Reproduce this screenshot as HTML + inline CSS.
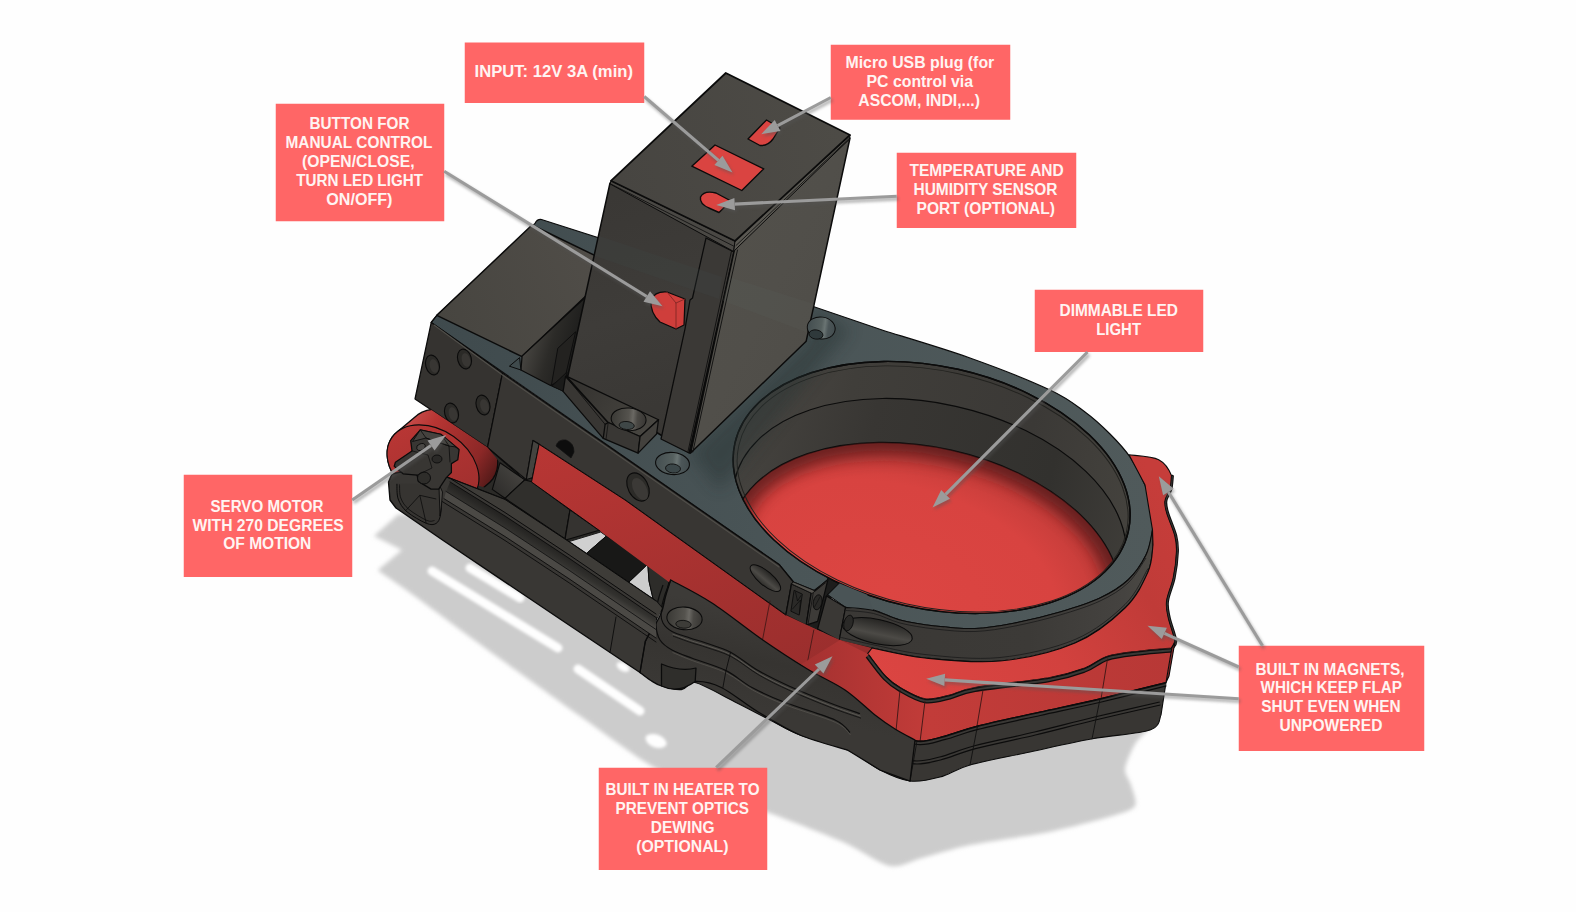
<!DOCTYPE html>
<html><head><meta charset="utf-8"><title>Flat panel flap</title>
<style>
html,body{margin:0;padding:0;background:#fefefe;}
body{width:1576px;height:912px;overflow:hidden;font-family:"Liberation Sans",sans-serif;}
svg{display:block}
text{font-family:"Liberation Sans",sans-serif;font-weight:bold;font-size:15.6px;fill:#fff4f2;}
</style></head><body>
<svg width="1576" height="912" viewBox="0 0 1576 912">
<defs>
<filter id="blur3" x="-10%" y="-10%" width="120%" height="120%"><feGaussianBlur stdDeviation="2.2"/></filter>
<filter id="blur2" x="-20%" y="-20%" width="140%" height="140%"><feGaussianBlur stdDeviation="1.6"/></filter>
<filter id="blur8" x="-20%" y="-20%" width="140%" height="140%"><feGaussianBlur stdDeviation="8"/></filter>
<filter id="blur14" x="-30%" y="-30%" width="160%" height="160%"><feGaussianBlur stdDeviation="14"/></filter>
<radialGradient id="gdisc" cx="0.42" cy="0.62" r="0.62">
 <stop offset="0" stop-color="#dc4542"/><stop offset="0.7" stop-color="#d84340"/><stop offset="0.92" stop-color="#c63d3a"/><stop offset="1" stop-color="#b83836"/>
</radialGradient>
<linearGradient id="gright" x1="0" y1="0" x2="1" y2="1">
 <stop offset="0" stop-color="#53514b"/><stop offset="0.5" stop-color="#514f4a"/><stop offset="1" stop-color="#4d4b46"/>
</linearGradient>
<linearGradient id="gstrip" x1="0" y1="0" x2="0.4" y2="1">
 <stop offset="0" stop-color="#b83634"/><stop offset="1" stop-color="#9a2e2d"/>
</linearGradient>
<linearGradient id="gteal" x1="0" y1="0" x2="1" y2="0">
 <stop offset="0" stop-color="#3f4a4d"/><stop offset="0.5" stop-color="#4a5557"/><stop offset="1" stop-color="#505a5b"/>
</linearGradient>
<linearGradient id="gwall" gradientUnits="userSpaceOnUse" x1="730" y1="0" x2="1140" y2="0"><stop offset="0" stop-color="#4a4743"/><stop offset="0.25" stop-color="#403e3a"/><stop offset="0.7" stop-color="#3b3936"/><stop offset="1" stop-color="#45433e"/></linearGradient>
<linearGradient id="gwall2" gradientUnits="userSpaceOnUse" x1="730" y1="0" x2="1140" y2="0"><stop offset="0" stop-color="#45433f"/><stop offset="0.3" stop-color="#383633"/><stop offset="0.75" stop-color="#32312e"/><stop offset="1" stop-color="#403e3a"/></linearGradient>
<linearGradient id="gtopL" gradientUnits="userSpaceOnUse" x1="440" y1="320" x2="600" y2="260"><stop offset="0" stop-color="#474540"/><stop offset="1" stop-color="#504d48"/></linearGradient>
<linearGradient id="gtopT" gradientUnits="userSpaceOnUse" x1="620" y1="180" x2="840" y2="130"><stop offset="0" stop-color="#474541"/><stop offset="1" stop-color="#4d4b46"/></linearGradient>
<linearGradient id="ggap" gradientUnits="userSpaceOnUse" x1="525" y1="350" x2="575" y2="365"><stop offset="0" stop-color="#464440"/><stop offset="0.45" stop-color="#2c2b28"/><stop offset="1" stop-color="#1b1b1a"/></linearGradient>
<linearGradient id="gfl" gradientUnits="userSpaceOnUse" x1="600" y1="200" x2="680" y2="450"><stop offset="0" stop-color="#3a3835"/><stop offset="0.45" stop-color="#3e3c39"/><stop offset="1" stop-color="#383633"/></linearGradient>
<linearGradient id="gblock" gradientUnits="userSpaceOnUse" x1="570" y1="380" x2="650" y2="430"><stop offset="0" stop-color="#33312e"/><stop offset="1" stop-color="#484641"/></linearGradient>
<linearGradient id="gcs" x1="0" y1="0" x2="1" y2="0"><stop offset="0" stop-color="#3a3935"/><stop offset="0.5" stop-color="#55534e"/><stop offset="0.62" stop-color="#6a6863"/><stop offset="0.75" stop-color="#4a4844"/><stop offset="1" stop-color="#383633"/></linearGradient>
<linearGradient id="gcst" x1="0" y1="0" x2="1" y2="0"><stop offset="0" stop-color="#444e50"/><stop offset="0.5" stop-color="#56605f"/><stop offset="0.62" stop-color="#6a7473"/><stop offset="0.75" stop-color="#4c5658"/><stop offset="1" stop-color="#424c4e"/></linearGradient>
<linearGradient id="gpocket" x1="0" y1="0" x2="0" y2="1"><stop offset="0" stop-color="#262523"/><stop offset="0.6" stop-color="#4c4a46"/><stop offset="1" stop-color="#2f2e2b"/></linearGradient>
<linearGradient id="gringwall" gradientUnits="userSpaceOnUse" x1="840" y1="0" x2="1155" y2="0"><stop offset="0" stop-color="#3a3835"/><stop offset="0.6" stop-color="#3c3a37"/><stop offset="0.9" stop-color="#454340"/><stop offset="1" stop-color="#4c4a45"/></linearGradient>
<linearGradient id="gub" x1="0" y1="1" x2="1" y2="0"><stop offset="0" stop-color="#2a2927"/><stop offset="1" stop-color="#4c4a46"/></linearGradient>
<linearGradient id="gflaptop" gradientUnits="userSpaceOnUse" x1="870" y1="690" x2="1170" y2="500"><stop offset="0" stop-color="#dc4542"/><stop offset="0.5" stop-color="#d2413e"/><stop offset="0.8" stop-color="#c03b38"/><stop offset="1" stop-color="#c63d3a"/></linearGradient>
<linearGradient id="gflapside" gradientUnits="userSpaceOnUse" x1="800" y1="0" x2="1170" y2="0"><stop offset="0" stop-color="#a33130"/><stop offset="0.2" stop-color="#b63735"/><stop offset="0.35" stop-color="#c23c39"/><stop offset="1" stop-color="#b83836"/></linearGradient>
<linearGradient id="garm" gradientUnits="userSpaceOnUse" x1="700" y1="600" x2="680" y2="690"><stop offset="0" stop-color="#3d3b38"/><stop offset="0.5" stop-color="#363431"/><stop offset="1" stop-color="#3a3835"/></linearGradient>
<linearGradient id="gservo" gradientUnits="userSpaceOnUse" x1="395" y1="415" x2="500" y2="480"><stop offset="0" stop-color="#cf5a57"/><stop offset="0.3" stop-color="#b73533"/><stop offset="0.75" stop-color="#8c2827"/><stop offset="1" stop-color="#451615"/></linearGradient>
<linearGradient id="gservof" gradientUnits="userSpaceOnUse" x1="390" y1="440" x2="480" y2="480"><stop offset="0" stop-color="#b83634"/><stop offset="1" stop-color="#a02f2e"/></linearGradient>
<linearGradient id="ggroove" gradientUnits="userSpaceOnUse" x1="500" y1="514" x2="492" y2="527"><stop offset="0" stop-color="#242321"/><stop offset="0.6" stop-color="#33322f"/><stop offset="1" stop-color="#474541"/></linearGradient>
</defs>
<g id="shadow">
<path d="M398.2,514.4L374,536L402,550L377.8,570.3C382.7,573.7 402.4,587.1 414.7,596.0C427.0,604.9 448.0,621.0 470.0,637.0C492.0,653.0 556.0,698.9 580.0,716.0C604.0,733.1 634.0,755.4 650.0,765.0C666.0,774.6 684.4,781.7 700.0,788.0C715.6,794.3 747.9,804.8 767.0,812.0C786.1,819.2 826.6,834.8 843.0,842.0C859.4,849.2 879.5,863.9 890.0,866.0C900.5,868.1 911.3,860.8 922.0,858.0C932.7,855.2 953.1,848.5 970.0,845.0C986.9,841.5 1030.1,835.9 1049.0,832.0C1067.9,828.1 1100.5,819.5 1112.0,816.0C1123.5,812.5 1132.5,810.1 1135.0,806.0C1137.5,801.9 1132.3,789.9 1131.0,785.0C1129.7,780.1 1124.5,774.5 1125.0,769.0C1125.5,763.5 1131.7,749.5 1135.0,744.0C1138.3,738.5 1148.0,730.1 1150.0,728.0L1100,690L900,640L700,560L520,520Z" fill="#cccccc" filter="url(#blur3)"/>
<line x1="432" y1="571" x2="558" y2="648" stroke="#fefefe" stroke-width="9" stroke-linecap="round" filter="url(#blur2)"/>
<line x1="470" y1="568" x2="520" y2="598" stroke="#fefefe" stroke-width="9" stroke-linecap="round" filter="url(#blur2)"/>
<line x1="578" y1="669" x2="640" y2="711" stroke="#fefefe" stroke-width="9" stroke-linecap="round" filter="url(#blur2)"/>
<ellipse cx="623" cy="667" rx="7" ry="4" transform="rotate(30 623 667)" fill="#fefefe" filter="url(#blur2)"/>
<ellipse cx="656" cy="741" rx="11" ry="6.5" transform="rotate(20 656 741)" fill="#fefefe" filter="url(#blur2)"/>
</g>
<g id="obj">
<polygon points="818,572 845,584 830,600 821,634 804,628 812,590" fill="#1d1d1c"/>
<clipPath id="plateclip"><path d="M431.2,322.4L436.8,315.3L535,223.5Q537,219 541.5,219.5L812.5,306.25L885,331C899.2,335.5 942.5,348.2 970.0,358.0C997.5,367.8 1030.8,381.0 1050.0,390.0C1069.2,399.0 1075.0,404.7 1085.0,412.0C1095.0,419.3 1102.5,426.5 1110.0,434.0C1117.5,441.5 1124.2,448.5 1130.0,457.0C1135.8,465.5 1141.4,476.2 1145.0,485.0C1148.6,493.8 1150.2,502.5 1151.5,510.0C1152.8,517.5 1153.4,522.5 1152.5,530.0C1151.6,537.5 1150.1,546.7 1146.0,555.0C1141.9,563.3 1135.7,572.8 1128.0,580.0C1120.3,587.2 1111.3,592.7 1100.0,598.0C1088.7,603.3 1074.2,607.8 1060.0,612.0C1045.8,616.2 1029.2,620.2 1015.0,623.0C1000.8,625.8 988.3,628.0 975.0,628.5C961.7,629.0 947.5,627.4 935.0,626.0C922.5,624.6 910.2,622.7 900.0,620.0C889.8,617.3 882.7,612.3 873.6,610.0C864.5,607.7 850.3,606.8 845.6,606.2L827.8,594.7L839.2,583.3L827.8,577L827.8,579.4L815.1,590.9L793.4,582L779.4,564.8Z"/></clipPath>
<path d="M431.2,322.4L436.8,315.3L535,223.5Q537,219 541.5,219.5L812.5,306.25L885,331C899.2,335.5 942.5,348.2 970.0,358.0C997.5,367.8 1030.8,381.0 1050.0,390.0C1069.2,399.0 1075.0,404.7 1085.0,412.0C1095.0,419.3 1102.5,426.5 1110.0,434.0C1117.5,441.5 1124.2,448.5 1130.0,457.0C1135.8,465.5 1141.4,476.2 1145.0,485.0C1148.6,493.8 1150.2,502.5 1151.5,510.0C1152.8,517.5 1153.4,522.5 1152.5,530.0C1151.6,537.5 1150.1,546.7 1146.0,555.0C1141.9,563.3 1135.7,572.8 1128.0,580.0C1120.3,587.2 1111.3,592.7 1100.0,598.0C1088.7,603.3 1074.2,607.8 1060.0,612.0C1045.8,616.2 1029.2,620.2 1015.0,623.0C1000.8,625.8 988.3,628.0 975.0,628.5C961.7,629.0 947.5,627.4 935.0,626.0C922.5,624.6 910.2,622.7 900.0,620.0C889.8,617.3 882.7,612.3 873.6,610.0C864.5,607.7 850.3,606.8 845.6,606.2L827.8,594.7L839.2,583.3L827.8,577L827.8,579.4L815.1,590.9L793.4,582L779.4,564.8Z" fill="url(#gteal)" stroke="#0b0b0b" stroke-width="1.2"/>
<clipPath id="holeclip"><ellipse cx="931.6" cy="487.4" rx="201.6" ry="121.0" transform="rotate(12.6 931.6 487.4)"/></clipPath>
<ellipse cx="931.6" cy="487.4" rx="201.6" ry="121.0" transform="rotate(12.6 931.6 487.4)" fill="url(#gwall)" stroke="#0b0b0b" stroke-width="1.44" />
<g clip-path="url(#holeclip)">
<ellipse cx="929.6" cy="523.4" rx="199.6" ry="120.0" transform="rotate(12.6 929.6 523.4)" fill="url(#gwall2)" stroke="#0b0b0b" stroke-width="1.2" />
<ellipse cx="925.6" cy="566.4" rx="197.6" ry="119.0" transform="rotate(12.6 925.6 566.4)" fill="url(#gdisc)" stroke="#0b0b0b" stroke-width="1.44" />
<clipPath id="discclip"><ellipse cx="925.6" cy="566.4" rx="197.6" ry="119.0" transform="rotate(12.6 925.6 566.4)"/></clipPath>
<g clip-path="url(#discclip)"><ellipse cx="925.6" cy="566.4" rx="197.6" ry="119.0" transform="rotate(12.6 925.6 566.4)" fill="none" stroke="#4a1615" stroke-width="26" opacity="0.75" filter="url(#blur8)"/></g>
</g>
<ellipse cx="931.6" cy="487.4" rx="201.6" ry="121.0" transform="rotate(12.6 931.6 487.4)" fill="none" stroke="#0b0b0b" stroke-width="1.44" />
<ellipse cx="932.6" cy="488.9" rx="198.6" ry="118.0" transform="rotate(12.6 932.6 488.9)" fill="none" stroke="#22221f" stroke-width="0.96" />
<polygon points="690,453 806,341 812,306 850,330 760,440 720,490" fill="#283033" opacity="0.45" filter="url(#blur8)" clip-path="url(#plateclip)"/>
<polygon points="532.0,225.0 436.8,315.3 522.0,356.6 617.2,266.3" fill="url(#gtopL)" stroke="#0b0b0b" stroke-width="1.5" stroke-linejoin="round" />
<polyline points="436.8,315.3 431.2,322.4" fill="none" stroke="#0b0b0b" stroke-width="1.1" stroke-linejoin="round" stroke-linecap="round" />
<polygon points="431.2,322.6 502.5,373.0 487.5,447.5 415.0,399.0" fill="#353330" stroke="#0b0b0b" stroke-width="1.25" stroke-linejoin="round" />
<ellipse cx="432.5" cy="365" rx="6.8" ry="10" transform="rotate(-15 432.5 365)" fill="#2b2a27" stroke="#0b0b0b" stroke-width="1.08" />
<ellipse cx="434.0" cy="366" rx="4.2" ry="7" transform="rotate(-15 434.0 366)" fill="#383633"/>
<ellipse cx="464.5" cy="359" rx="6.8" ry="10" transform="rotate(-15 464.5 359)" fill="#2b2a27" stroke="#0b0b0b" stroke-width="1.08" />
<ellipse cx="466.0" cy="360" rx="4.2" ry="7" transform="rotate(-15 466.0 360)" fill="#383633"/>
<ellipse cx="451.5" cy="413" rx="6.8" ry="10" transform="rotate(-15 451.5 413)" fill="#2b2a27" stroke="#0b0b0b" stroke-width="1.08" />
<ellipse cx="453.0" cy="414" rx="4.2" ry="7" transform="rotate(-15 453.0 414)" fill="#383633"/>
<ellipse cx="483" cy="405" rx="6.8" ry="10" transform="rotate(-15 483 405)" fill="#2b2a27" stroke="#0b0b0b" stroke-width="1.08" />
<ellipse cx="484.5" cy="406" rx="4.2" ry="7" transform="rotate(-15 484.5 406)" fill="#383633"/>
<polygon points="522.1,356.0 586.2,296.5 600.0,300.0 575.0,380.0 562.8,390.3 550.1,385.2 520.9,370.0" fill="url(#ggap)" stroke="#0b0b0b" stroke-width="1.25" stroke-linejoin="round" />
<polygon points="509.4,366.2 519.6,357.6 520.9,370.0" fill="#3f4a4c" stroke="#0b0b0b" stroke-width="1.0" stroke-linejoin="round" />
<polygon points="557.8,348.3 575.6,331.8 565.4,376.3 551.4,385.2" fill="#232220" stroke="#0e0e0e" stroke-width="1.0" stroke-linejoin="round" />
<polygon points="552.0,386.0 567.0,372.0 566.3,376.1 563.1,391.3" fill="#1b1b1a" stroke="#0e0e0e" stroke-width="1.0" stroke-linejoin="round" />
<polygon points="610.0,183.0 735.0,247.0 690.0,453.0 567.5,377.5" fill="url(#gfl)" stroke="#0b0b0b" stroke-width="1.5" stroke-linejoin="round" />
<polygon points="706.0,238.0 734.0,252.0 689.0,453.0 661.0,439.0 685.0,328.8 690.0,300.0 692.5,298.0" fill="#3b3936" stroke="#0b0b0b" stroke-width="1.25" stroke-linejoin="round" />
<polygon points="735.0,247.0 850.0,138.0 806.2,341.2 690.6,453.0" fill="url(#gright)" stroke="#0b0b0b" stroke-width="1.5" stroke-linejoin="round" />
<polygon points="599.0,236.0 722.0,277.0 719.0,299.0 595.0,256.0" fill="#42474a" stroke="none" stroke-width="0.0" stroke-linejoin="round" opacity="0.22"/>
<polygon points="729.0,277.0 814.0,304.0 806.0,332.0 723.0,301.0" fill="#5a5f5c" stroke="none" stroke-width="0.0" stroke-linejoin="round" opacity="0.2"/>
<polyline points="737.5,250.0 692.8,452.0" fill="none" stroke="#0d0d0d" stroke-width="0.9" stroke-linejoin="round" stroke-linecap="round" />
<polyline points="731.5,251.0 688.0,451.5" fill="none" stroke="#0d0d0d" stroke-width="0.9" stroke-linejoin="round" stroke-linecap="round" />
<polygon points="610.9,180.8 735.0,241.0 733.7,251.5 610.2,184.0" fill="#4a4844" stroke="#0b0b0b" stroke-width="1.0" stroke-linejoin="round" />
<polyline points="610.5,183.8 733.5,246.0" fill="none" stroke="#0b0b0b" stroke-width="0.8" stroke-linejoin="round" stroke-linecap="round" />
<polygon points="735.0,241.0 850.0,135.0 849.5,139.0 738.0,247.0 733.7,251.5" fill="#5a5852" stroke="#0b0b0b" stroke-width="1.0" stroke-linejoin="round" />
<polyline points="736.0,245.5 849.6,138.0" fill="none" stroke="#0b0b0b" stroke-width="0.8" stroke-linejoin="round" stroke-linecap="round" />
<polygon points="725.8,73.0 850.0,135.0 735.0,241.0 610.9,180.8" fill="url(#gtopT)" stroke="#0b0b0b" stroke-width="1.75" stroke-linejoin="round" />
<polygon points="715.0,145.0 763.8,168.8 741.8,190.5 691.8,166.2" fill="#da4441" stroke="#0b0b0b" stroke-width="1.375" stroke-linejoin="round" />
<path d="M766.5,120 L748,139 L760,145.5 Q768,146 773,139 L780,128 Z" fill="#da4441" stroke="#0b0b0b" stroke-width="1.375" stroke-linejoin="round" />
<path d="M716,193 Q704,190 700.5,197 Q699,204 710,208.5 L719,212.5 L731,201 Z" fill="#da4441" stroke="#0b0b0b" stroke-width="1.375" stroke-linejoin="round" />
<path d="M651,300 Q655,291 667,292 L685,299 L684,325 L676,329 L660,322 Q650,313 651,300 Z" fill="#cf3e3b" stroke="#0b0b0b" stroke-width="1.25" stroke-linejoin="round" />
<polyline points="667.0,292.0 676.0,303.0 676.0,329.0" fill="none" stroke="#7a2422" stroke-width="0.8" stroke-linejoin="round" stroke-linecap="round" />
<polyline points="676.0,303.0 685.0,299.0" fill="none" stroke="#7a2422" stroke-width="0.8" stroke-linejoin="round" stroke-linecap="round" />
<polygon points="565.5,376.5 608.2,422.5 603.2,438.4 563.1,391.3" fill="#383633" stroke="#0b0b0b" stroke-width="1.25" stroke-linejoin="round" />
<polygon points="566.3,376.1 658.5,419.7 640.1,436.5 608.2,422.5" fill="url(#gblock)" stroke="#0b0b0b" stroke-width="1.25" stroke-linejoin="round" />
<polyline points="566.3,377.0 605.1,424.4" fill="none" stroke="#0b0b0b" stroke-width="0.8" stroke-linejoin="round" stroke-linecap="round" />
<polygon points="605.1,424.4 608.2,422.5 640.1,436.5 638.1,453.1 603.2,438.4" fill="#393734" stroke="#0b0b0b" stroke-width="1.25" stroke-linejoin="round" />
<polygon points="640.1,436.5 658.5,419.7 656.6,434.0 638.1,453.1" fill="#43413d" stroke="#0b0b0b" stroke-width="1.25" stroke-linejoin="round" />
<polyline points="608.2,422.5 606.0,439.5" fill="none" stroke="#0b0b0b" stroke-width="0.7" stroke-linejoin="round" stroke-linecap="round" />
<ellipse cx="628.6" cy="419.3" rx="17.5" ry="11.3" transform="rotate(5 628.6 419.3)" fill="url(#gcs)" stroke="#0b0b0b" stroke-width="1.08" />
<ellipse cx="626.7" cy="425.5" rx="7.6" ry="4" transform="rotate(5 626.7 425.5)" fill="#3f4747" stroke="#0b0b0b" stroke-width="0.84" />
<ellipse cx="672.5" cy="463.5" rx="17" ry="11" transform="rotate(6 672.5 463.5)" fill="url(#gcst)" stroke="#0b0b0b" stroke-width="1.08" />
<ellipse cx="673" cy="468.5" rx="7.5" ry="4.5" transform="rotate(6 673 468.5)" fill="#3c4749" stroke="#0b0b0b" stroke-width="0.84" />
<ellipse cx="821.2" cy="328" rx="14" ry="11" transform="rotate(8 821.2 328)" fill="url(#gcst)" stroke="#0b0b0b" stroke-width="0.96" />
<ellipse cx="816" cy="334.5" rx="7" ry="4.6" transform="rotate(8 816 334.5)" fill="#2f393b" stroke="#0b0b0b" stroke-width="0.84" />
<polygon points="502.5,373.0 779.4,564.8 793.4,582.0 791.5,583.9 785.8,615.1 625.0,500.0 539.1,444.3 533.0,440.5 526.3,479.8 487.5,447.5" fill="#383633" stroke="#0b0b0b" stroke-width="1.25" stroke-linejoin="round" />
<polyline points="434.0,325.0 502.5,375.0 779.0,567.0" fill="none" stroke="#514f4a" stroke-width="1.1" stroke-linejoin="round" stroke-linecap="round" />
<ellipse cx="638" cy="487" rx="10" ry="15" transform="rotate(-28 638 487)" fill="#2c2b28" stroke="#0b0b0b" stroke-width="1.08" />
<ellipse cx="640" cy="489" rx="6.5" ry="12" transform="rotate(-28 640 489)" fill="#3b3936"/>
<path d="M556,446 Q558,439 566,440 Q574,443 574,452 L571,458 Z" fill="#0d0d0d" stroke="#111" stroke-width="0.75" stroke-linejoin="round" />
<polygon points="533.0,440.5 539.1,444.3 531.5,482.0 526.3,479.8" fill="#45433f" stroke="#0b0b0b" stroke-width="1.125" stroke-linejoin="round" />
<polygon points="785.8,615.1 806.0,625.0 817.5,630.0 840.0,640.0 872.0,648.0 867.5,653.8 840.0,652.0 800.0,632.0" fill="#9a2e2d" stroke="none" stroke-width="0.0" stroke-linejoin="round" />
<polygon points="791.5,583.9 811.2,592.8 806.2,625.2 785.8,615.1" fill="#33312e" stroke="#0b0b0b" stroke-width="1.25" stroke-linejoin="round" />
<polygon points="811.2,592.8 827.8,580.1 817.6,621.4 806.2,625.2" fill="#3d3b38" stroke="#0b0b0b" stroke-width="1.25" stroke-linejoin="round" />
<polyline points="813.2,593.3 808.0,624.5" fill="none" stroke="#0b0b0b" stroke-width="0.7" stroke-linejoin="round" stroke-linecap="round" />
<polygon points="793.4,582.0 815.1,590.9 827.8,579.4 826.5,582.0 812.0,593.5 791.5,583.9" fill="#56534e" stroke="#0b0b0b" stroke-width="0.875" stroke-linejoin="round" />
<polygon points="794.1,590.3 802.3,594.1 799.2,615.1 790.9,611.2" fill="#2a2927" stroke="#0b0b0b" stroke-width="0.875" stroke-linejoin="round" />
<polyline points="795.5,592.0 797.5,601.0 801.0,595.5" fill="none" stroke="#0b0b0b" stroke-width="0.7" stroke-linejoin="round" stroke-linecap="round" />
<polyline points="792.5,609.0 800.5,600.0 799.5,613.0" fill="none" stroke="#0b0b0b" stroke-width="0.7" stroke-linejoin="round" stroke-linecap="round" />
<ellipse cx="817.6" cy="602.3" rx="4.3" ry="7.6" transform="rotate(12 817.6 602.3)" fill="#2a2927" stroke="#0b0b0b" stroke-width="0.84" />
<polyline points="814.5,607.0 820.0,597.0" fill="none" stroke="#0b0b0b" stroke-width="0.6" stroke-linejoin="round" stroke-linecap="round" />
<polygon points="839.2,583.3 827.8,594.7 845.6,607.4 873.6,611.0 867.2,594.7" fill="#4a5456" stroke="none" stroke-width="0.0" stroke-linejoin="round" />
<polyline points="839.2,583.3 827.8,594.7 845.6,607.4" fill="none" stroke="#0b0b0b" stroke-width="0.9" stroke-linejoin="round" stroke-linecap="round" />
<polygon points="826.5,596.0 845.6,607.4 839.2,640.5 817.6,629.0" fill="#3a3835" stroke="#0b0b0b" stroke-width="1.25" stroke-linejoin="round" />
<polyline points="827.8,594.7 825.2,597.3" fill="none" stroke="#0b0b0b" stroke-width="0.7" stroke-linejoin="round" stroke-linecap="round" />
<ellipse cx="765.4" cy="578.2" rx="19" ry="7" transform="rotate(40 765.4 578.2)" fill="url(#gpocket)" stroke="#0b0b0b" stroke-width="0.96" />
<path d="M845.6,607.4C850.3,607.9 864.5,608.4 873.6,610.5C882.7,612.6 889.8,617.4 900.0,620.0C910.2,622.6 922.5,624.6 935.0,626.0C947.5,627.4 961.7,629.0 975.0,628.5C988.3,628.0 1000.8,625.8 1015.0,623.0C1029.2,620.2 1045.8,616.2 1060.0,612.0C1074.2,607.8 1088.7,603.3 1100.0,598.0C1111.3,592.7 1120.3,587.2 1128.0,580.0C1135.7,572.8 1141.9,563.3 1146.0,555.0C1150.1,546.7 1151.4,534.2 1152.5,530.0L1153.0,545.0C1152.2,549.5 1152.7,561.5 1148.0,572.0C1143.3,582.5 1137.2,596.2 1125.0,608.0C1112.8,619.8 1095.8,634.2 1075.0,643.0C1054.2,651.8 1025.0,658.5 1000.0,661.0C975.0,663.5 946.3,660.2 925.0,658.0C903.7,655.8 886.3,650.9 872.0,648.0C857.7,645.1 844.7,641.8 839.2,640.5Z" fill="url(#gringwall)" stroke="#0b0b0b" stroke-width="1.1"/>
<path d="M1148.0,568.5C1144.2,574.5 1137.2,592.7 1125.0,604.5C1112.8,616.3 1095.8,630.7 1075.0,639.5C1054.2,648.3 1025.0,655.0 1000.0,657.5C975.0,660.0 946.3,656.7 925.0,654.5C903.7,652.3 886.3,647.4 872.0,644.5C857.7,641.6 844.7,638.2 839.2,637.0" fill="none" stroke="#1a1a1a" stroke-width="0.8"/>
<path d="M845.6,610.4C850.3,610.9 864.5,611.4 873.6,613.5C882.7,615.6 889.8,620.4 900.0,623.0C910.2,625.6 922.5,627.6 935.0,629.0C947.5,630.4 961.7,632.0 975.0,631.5C988.3,631.0 1000.8,628.8 1015.0,626.0C1029.2,623.2 1045.8,619.2 1060.0,615.0C1074.2,610.8 1088.7,606.3 1100.0,601.0C1111.3,595.7 1120.3,590.2 1128.0,583.0C1135.7,575.8 1143.0,562.2 1146.0,558.0" fill="none" stroke="#1a1a1a" stroke-width="0.8"/>
<ellipse cx="877.4" cy="631.6" rx="35.6" ry="12.2" transform="rotate(12 877.4 631.6)" fill="url(#gpocket)" stroke="#0b0b0b" stroke-width="1.08" />
<ellipse cx="848.5" cy="623" rx="4.5" ry="8" transform="rotate(15 848.5 623)" fill="#2a2927" stroke="#0b0b0b" stroke-width="0.84" />
<polygon points="487.5,447.5 524.8,480.0 531.5,478.0 600.0,522.0 675.0,572.0 662.0,608.0 568.7,542.0 447.8,477.4 470.0,450.0" fill="#2b2a27" stroke="#0b0b0b" stroke-width="1.25" stroke-linejoin="round" />
<polygon points="500.0,462.7 524.8,479.9 505.0,498.3 492.3,489.4" fill="url(#gub)" stroke="#0b0b0b" stroke-width="1.125" stroke-linejoin="round" />
<polygon points="524.8,479.9 531.8,481.8 570.0,509.8 564.9,539.0 505.0,498.3" fill="#302f2c" stroke="#0b0b0b" stroke-width="1.125" stroke-linejoin="round" />
<polygon points="570.0,509.8 599.2,530.2 564.9,540.3" fill="#353330" stroke="#0b0b0b" stroke-width="1.125" stroke-linejoin="round" />
<polygon points="569.0,541.6 600.7,532.0 606.4,536.0 585.4,554.4" fill="#d0d0d0" stroke="#1a1a1a" stroke-width="1.0" stroke-linejoin="round" />
<polygon points="628.7,582.3 647.8,564.0 649.0,581.0 653.5,600.8" fill="#cdcdcd" stroke="#1a1a1a" stroke-width="1.0" stroke-linejoin="round" />
<polygon points="585.4,554.4 606.4,536.0 632.5,553.0 647.8,564.0 628.7,582.3" fill="#181817" stroke="#0c0c0c" stroke-width="1.0" stroke-linejoin="round" />
<polygon points="647.8,564.0 669.4,579.8 665.6,596.3 661.8,611.6 653.5,600.8 649.0,581.0" fill="#2d2c29" stroke="#0b0b0b" stroke-width="1.0" stroke-linejoin="round" />
<polygon points="539.1,444.3 625.0,500.0 785.8,615.1 817.5,630.0 840.0,640.0 872.0,648.0 867.5,653.8 880.0,714.0 807.5,675.0 735.0,631.0 600.0,531.0 531.5,482.0" fill="url(#gstrip)" stroke="none" stroke-width="0.0" stroke-linejoin="round" />
<polyline points="785.8,615.1 625.0,500.0 539.1,444.3 531.5,482.0 600.0,531.0" fill="none" stroke="#0b0b0b" stroke-width="1" stroke-linejoin="round" stroke-linecap="round" />
<polyline points="770.0,601.0 762.5,640.0" fill="none" stroke="#3a1514" stroke-width="0.8" stroke-linejoin="round" stroke-linecap="round" />
<polyline points="813.8,630.0 807.5,662.0" fill="none" stroke="#3a1514" stroke-width="0.8" stroke-linejoin="round" stroke-linecap="round" />
<path d="M867.5,653.8C870.4,657.5 879.6,670.4 885.0,676.0C890.4,681.6 893.3,683.7 900.0,687.5C906.7,691.3 916.7,697.5 925.0,698.8C933.3,700.0 941.7,696.9 950.0,695.0C958.3,693.1 958.3,690.4 975.0,687.5C991.7,684.6 1031.7,680.8 1050.0,677.5C1068.3,674.2 1075.4,671.5 1085.0,668.0C1094.6,664.5 1098.3,659.1 1107.5,656.2C1116.7,653.4 1129.3,652.4 1140.0,651.0C1150.7,649.6 1166.5,648.5 1171.8,648.0L1171.8,648.0C1172.3,646.8 1175.6,645.8 1175.1,640.7C1174.6,635.6 1170.0,624.2 1168.6,617.6C1167.2,611.0 1166.1,607.8 1166.9,601.2C1167.7,594.6 1171.8,586.4 1173.5,578.2C1175.2,570.0 1176.5,558.9 1176.8,551.8C1177.1,544.7 1176.8,542.0 1175.1,535.4C1173.4,528.8 1168.5,518.1 1166.9,512.4C1165.3,506.6 1164.8,504.8 1165.3,500.9C1165.8,497.0 1169.1,493.4 1170.2,489.3C1171.3,485.2 1173.7,481.1 1171.8,476.2C1169.9,471.3 1165.8,463.3 1158.7,459.7C1151.6,456.1 1134.0,455.6 1129.0,454.8L1145,485 L1152.5,530 L1153.0,545.0C1152.2,549.5 1152.7,561.5 1148.0,572.0C1143.3,582.5 1137.2,596.2 1125.0,608.0C1112.8,619.8 1095.8,634.2 1075.0,643.0C1054.2,651.8 1025.0,658.5 1000.0,661.0C975.0,663.5 946.3,660.2 925.0,658.0C903.7,655.8 880.8,649.7 872.0,648.0Z" fill="url(#gflaptop)" stroke="#0b0b0b" stroke-width="1.1"/>
<path d="M867.5,653.8C870.4,657.5 879.6,670.4 885.0,676.0C890.4,681.6 893.3,683.7 900.0,687.5C906.7,691.3 916.7,697.5 925.0,698.8C933.3,700.0 941.7,696.9 950.0,695.0C958.3,693.1 958.3,690.4 975.0,687.5C991.7,684.6 1031.7,680.8 1050.0,677.5C1068.3,674.2 1075.4,671.5 1085.0,668.0C1094.6,664.5 1098.3,659.1 1107.5,656.2C1116.7,653.4 1129.3,652.4 1140.0,651.0C1150.7,649.6 1166.5,648.5 1171.8,648.0L1166.0,682.5C1155.0,685.2 1121.0,693.8 1100.0,698.8C1079.0,703.7 1060.4,707.5 1040.0,712.0C1019.6,716.5 993.3,722.0 977.5,726.0C961.7,730.0 955.0,733.5 945.0,736.0C935.0,738.5 927.5,742.0 917.5,741.0C907.5,740.0 895.4,734.8 885.0,730.0C874.6,725.2 869.2,723.3 855.0,712.5C840.8,701.7 809.2,672.9 800.0,665.0L840,640Z" fill="url(#gflapside)" stroke="none"/>
<path d="M1166.0,682.5C1155.0,685.2 1121.0,693.8 1100.0,698.8C1079.0,703.7 1060.4,707.5 1040.0,712.0C1019.6,716.5 993.3,722.0 977.5,726.0C961.7,730.0 955.0,733.5 945.0,736.0C935.0,738.5 927.5,742.0 917.5,741.0C907.5,740.0 890.4,731.8 885.0,730.0" fill="none" stroke="#0b0b0b" stroke-width="1.1"/>
<path d="M867.5,656.0C870.4,659.7 879.6,672.6 885.0,678.2C890.4,683.8 893.3,685.9 900.0,689.7C906.7,693.5 916.7,699.7 925.0,701.0C933.3,702.2 941.7,699.1 950.0,697.2C958.3,695.3 958.3,692.6 975.0,689.7C991.7,686.8 1031.7,683.0 1050.0,679.7C1068.3,676.5 1075.4,673.7 1085.0,670.2C1094.6,666.7 1098.3,661.3 1107.5,658.5C1116.7,655.6 1129.3,654.6 1140.0,653.2C1150.7,651.8 1166.5,650.7 1171.8,650.2" fill="none" stroke="#0e0e0e" stroke-width="4.6"/>
<path d="M867.5,656.0C870.4,659.7 879.6,672.6 885.0,678.2C890.4,683.8 893.3,685.9 900.0,689.7C906.7,693.5 916.7,699.7 925.0,701.0C933.3,702.2 941.7,699.1 950.0,697.2C958.3,695.3 958.3,692.6 975.0,689.7C991.7,686.8 1031.7,683.0 1050.0,679.7C1068.3,676.5 1075.4,673.7 1085.0,670.2C1094.6,666.7 1098.3,661.3 1107.5,658.5C1116.7,655.6 1129.3,654.6 1140.0,653.2C1150.7,651.8 1166.5,650.7 1171.8,650.2" fill="none" stroke="#3a3835" stroke-width="2.0"/>
<path d="M1172.4,648.0C1172.9,646.8 1176.2,645.8 1175.7,640.7C1175.2,635.6 1170.6,624.2 1169.2,617.6C1167.8,611.0 1166.7,607.8 1167.5,601.2C1168.3,594.6 1172.4,586.4 1174.1,578.2C1175.8,570.0 1177.1,558.9 1177.4,551.8C1177.7,544.7 1177.3,542.0 1175.7,535.4C1174.0,528.8 1169.1,518.1 1167.5,512.4C1165.9,506.6 1165.3,504.8 1165.9,500.9C1166.4,497.0 1169.7,493.4 1170.8,489.3C1171.9,485.2 1172.1,478.4 1172.4,476.2" fill="none" stroke="#0e0e0e" stroke-width="3.0" stroke-linecap="round"/>
<path d="M1172.4,648.0C1172.9,646.8 1176.2,645.8 1175.7,640.7C1175.2,635.6 1170.6,624.2 1169.2,617.6C1167.8,611.0 1166.7,607.8 1167.5,601.2C1168.3,594.6 1172.4,586.4 1174.1,578.2C1175.8,570.0 1177.1,558.9 1177.4,551.8C1177.7,544.7 1177.3,542.0 1175.7,535.4C1174.0,528.8 1169.1,518.1 1167.5,512.4C1165.9,506.6 1165.3,504.8 1165.9,500.9C1166.4,497.0 1169.7,493.4 1170.8,489.3C1171.9,485.2 1172.1,478.4 1172.4,476.2" fill="none" stroke="#3a3835" stroke-width="1.0"/>
<polyline points="900.0,690.0 896.0,731.0" fill="none" stroke="#3a1514" stroke-width="0.9" stroke-linejoin="round" stroke-linecap="round" />
<polyline points="925.0,701.0 920.0,742.0" fill="none" stroke="#3a1514" stroke-width="0.9" stroke-linejoin="round" stroke-linecap="round" />
<polyline points="983.0,690.0 977.0,726.0" fill="none" stroke="#3a1514" stroke-width="0.9" stroke-linejoin="round" stroke-linecap="round" />
<polyline points="1107.5,659.0 1101.0,699.0" fill="none" stroke="#3a1514" stroke-width="0.9" stroke-linejoin="round" stroke-linecap="round" />
<polygon points="1171.8,648.0 1175.1,641.0 1169.0,676.0 1166.0,682.5" fill="#8e2b2a" stroke="#0b0b0b" stroke-width="1.125" stroke-linejoin="round" />
<path d="M640.0,640.0C650.0,640.0 680.0,638.3 700.0,640.0C720.0,641.7 743.3,645.8 760.0,650.0C776.7,654.2 784.2,654.6 800.0,665.0C815.8,675.4 840.8,701.7 855.0,712.5C869.2,723.3 874.6,725.2 885.0,730.0C895.4,734.8 907.5,740.0 917.5,741.0C927.5,742.0 935.0,738.5 945.0,736.0C955.0,733.5 961.7,730.0 977.5,726.0C993.3,722.0 1019.6,716.5 1040.0,712.0C1060.4,707.5 1079.0,703.7 1100.0,698.8C1121.0,693.8 1155.0,685.2 1166.0,682.5L1161.0,715.0C1159.2,717.5 1161.4,726.0 1150.0,730.0C1138.6,734.0 1112.5,735.1 1092.5,738.8C1072.5,742.4 1050.4,747.6 1030.0,752.0C1009.6,756.4 985.0,760.8 970.0,765.0C955.0,769.2 950.0,774.3 940.0,777.0C930.0,779.7 920.0,782.2 910.0,781.0C900.0,779.8 890.4,775.2 880.0,770.0C869.6,764.8 860.8,755.8 847.5,750.0C834.2,744.2 812.9,740.0 800.0,735.0C787.1,730.0 780.8,725.5 770.0,720.0C759.2,714.5 747.5,708.2 735.0,702.0C722.5,695.8 704.6,684.7 695.0,682.5C685.4,680.3 682.9,688.6 677.5,689.0C672.1,689.4 668.8,687.8 662.5,685.0C656.2,682.2 643.8,674.6 640.0,672.5Z" fill="#383633" stroke="#0b0b0b" stroke-width="1.1"/>
<path d="M1160.0,703.5C1149.2,706.0 1115.8,713.5 1095.0,718.5C1074.2,723.5 1055.0,728.7 1035.0,733.5C1015.0,738.3 990.8,743.1 975.0,747.2C959.2,751.4 950.4,756.0 940.0,758.5C929.6,761.0 922.5,763.6 912.5,762.2C902.5,760.9 890.4,755.7 880.0,750.5C869.6,745.3 863.3,739.7 850.0,731.0C836.7,722.3 808.3,703.9 800.0,698.5" fill="none" stroke="#0c0c0c" stroke-width="4.2"/>
<path d="M1160.0,703.5C1149.2,706.0 1115.8,713.5 1095.0,718.5C1074.2,723.5 1055.0,728.7 1035.0,733.5C1015.0,738.3 990.8,743.1 975.0,747.2C959.2,751.4 950.4,756.0 940.0,758.5C929.6,761.0 922.5,763.6 912.5,762.2C902.5,760.9 890.4,755.7 880.0,750.5C869.6,745.3 863.3,739.7 850.0,731.0C836.7,722.3 808.3,703.9 800.0,698.5" fill="none" stroke="#3a3835" stroke-width="1.8"/>
<path d="M1166.0,684.5C1155.0,687.2 1121.0,695.8 1100.0,700.8C1079.0,705.7 1060.4,709.5 1040.0,714.0C1019.6,718.5 993.3,724.0 977.5,728.0C961.7,732.0 955.0,735.5 945.0,738.0C935.0,740.5 927.5,744.0 917.5,743.0C907.5,742.0 890.4,733.8 885.0,732.0" fill="none" stroke="#0c0c0c" stroke-width="4.2"/>
<path d="M1166.0,684.5C1155.0,687.2 1121.0,695.8 1100.0,700.8C1079.0,705.7 1060.4,709.5 1040.0,714.0C1019.6,718.5 993.3,724.0 977.5,728.0C961.7,732.0 955.0,735.5 945.0,738.0C935.0,740.5 927.5,744.0 917.5,743.0C907.5,742.0 890.4,733.8 885.0,732.0" fill="none" stroke="#3a3835" stroke-width="1.8"/>
<polyline points="917.0,741.0 910.0,781.0" fill="none" stroke="#111" stroke-width="0.9" stroke-linejoin="round" stroke-linecap="round" />
<polyline points="977.5,726.0 970.0,765.0" fill="none" stroke="#111" stroke-width="0.9" stroke-linejoin="round" stroke-linecap="round" />
<polyline points="1100.0,699.0 1092.0,739.0" fill="none" stroke="#111" stroke-width="0.9" stroke-linejoin="round" stroke-linecap="round" />
<polyline points="855.0,713.0 847.0,750.0" fill="none" stroke="#111" stroke-width="0.9" stroke-linejoin="round" stroke-linecap="round" />
</g>
<g id="obj2">
<path d="M670.7,580.0C677.6,583.8 696.6,593.0 712.0,603.0C727.4,613.0 746.9,629.0 762.8,640.0C778.7,651.0 793.6,660.7 807.3,669.0C821.0,677.3 833.7,682.3 845.0,690.0C856.3,697.7 866.7,708.5 875.0,715.0C883.3,721.5 888.3,724.8 895.0,729.0C901.7,733.2 911.7,738.2 915.0,740.0L910,781L880,770L847.5,750L847.5,750.0C839.6,747.5 814.9,741.3 800.0,735.0C785.1,728.7 771.3,719.9 758.2,712.0C745.1,704.1 731.8,692.6 721.3,687.5C710.8,682.4 701.9,681.2 695.2,681.5C688.6,681.8 687.0,688.8 681.4,689.5C675.8,690.2 666.7,687.6 661.5,686.0C656.3,684.4 653.6,682.2 650.0,680.0C646.4,677.8 641.7,673.8 640.0,672.5L640.0,666.0C640.9,661.9 642.8,648.2 645.3,641.4C647.8,634.6 652.2,630.0 655.0,625.0C657.8,620.0 660.0,616.4 661.8,611.6C663.6,606.8 664.1,601.6 665.6,596.3C667.1,591.0 669.9,582.7 670.7,580.0Z" fill="url(#garm)" stroke="#0b0b0b" stroke-width="1.3"/>
<path d="M670.7,580.0C669.7,582.7 666.1,590.7 664.5,596.0C662.9,601.3 661.2,607.1 661.0,611.6C660.8,616.1 661.2,619.7 663.0,623.0C664.8,626.3 667.5,629.0 672.0,631.5C676.5,634.0 684.3,636.1 690.0,638.0C695.7,639.9 699.2,640.6 706.0,643.0C712.8,645.4 721.9,647.6 730.6,652.2C739.3,656.8 748.5,665.0 758.2,670.6C767.9,676.2 776.9,680.6 788.9,686.0C800.9,691.4 818.1,698.4 830.0,703.0C841.9,707.6 855.0,711.8 860.0,713.6" fill="none" stroke="#0d0d0d" stroke-width="1.1"/>
<path d="M672.5,634.1C675.5,635.2 684.8,638.7 690.5,640.6C696.2,642.5 699.7,643.2 706.5,645.6C713.3,648.0 722.4,650.2 731.1,654.8C739.8,659.4 749.0,667.6 758.7,673.2C768.4,678.8 777.4,683.2 789.4,688.6C801.4,694.0 818.6,701.0 830.5,705.6C842.4,710.2 855.5,714.4 860.5,716.2" fill="none" stroke="#5d5b56" stroke-width="0.9"/>
<path d="M673.0,636.1C676.0,637.2 685.3,640.7 691.0,642.6C696.7,644.5 700.2,645.2 707.0,647.6C713.8,650.0 722.9,652.2 731.6,656.8C740.3,661.4 749.5,669.6 759.2,675.2C768.9,680.8 777.9,685.2 789.9,690.6C801.9,696.0 819.1,703.0 831.0,707.6C842.9,712.2 856.0,716.4 861.0,718.2" fill="none" stroke="#0d0d0d" stroke-width="0.8"/>
<path d="M663.0,585.0C662.1,588.0 658.7,596.3 657.5,603.0C656.3,609.7 655.6,618.8 656.0,625.0C656.4,631.2 657.3,635.8 660.0,640.0C662.7,644.2 666.6,647.0 672.0,650.0C677.4,653.0 683.2,654.9 692.2,658.3C701.2,661.7 716.0,665.7 726.0,670.6C736.0,675.5 742.0,682.1 752.0,687.5C762.0,692.9 772.0,697.4 785.8,702.8C799.6,708.2 824.3,715.0 835.0,720.0C845.7,725.0 847.5,730.4 850.0,732.5" fill="none" stroke="#0d0d0d" stroke-width="1.2"/>
<path d="M672.5,652.4C675.9,653.8 683.7,657.3 692.7,660.7C701.7,664.1 716.5,668.1 726.5,673.0C736.5,677.9 742.5,684.5 752.5,689.9C762.5,695.3 772.5,699.8 786.3,705.2C800.1,710.6 824.8,717.4 835.5,722.4C846.2,727.4 848.0,732.8 850.5,734.9" fill="none" stroke="#55534e" stroke-width="0.8"/>
<polyline points="730.6,652.2 726.0,670.6" fill="none" stroke="#0d0d0d" stroke-width="0.9" stroke-linejoin="round" stroke-linecap="round" />
<polyline points="726.0,670.6 722.9,687.5" fill="none" stroke="#0d0d0d" stroke-width="0.9" stroke-linejoin="round" stroke-linecap="round" />
<ellipse cx="684.5" cy="618.4" rx="17.7" ry="11.3" transform="rotate(5 684.5 618.4)" fill="url(#gcs)" stroke="#0b0b0b" stroke-width="1.08" />
<ellipse cx="683.5" cy="624.3" rx="7.7" ry="3.9" transform="rotate(5 683.5 624.3)" fill="#3d3c38" stroke="#0b0b0b" stroke-width="0.84" />
<clipPath id="servoclip"><polygon points="380,400 431.5,323.5 415,399 487.5,447.5 500,462.7 492.3,489.4 447.8,477.4 400,520 370,520"/></clipPath>
<polygon points="387.2,455.9 387.3,450.8 388.1,445.9 389.7,441.4 392.0,437.3 395.1,433.7 414.1,417.7 417.8,414.7 422.1,412.2 426.9,410.4 432.1,409.3 437.6,408.9 443.4,409.1 449.4,410.1 455.4,411.8 461.3,414.1 467.1,417.0 472.6,420.5 477.8,424.5 482.5,428.9 486.8,433.7 490.4,438.8 493.3,444.1 495.6,449.4 497.1,454.8 497.8,460.1 497.7,465.2 496.9,470.1 495.3,474.6 493.0,478.7 489.9,482.3 470.9,498.3 467.2,501.3 462.9,503.8 458.1,505.6 452.9,506.7 447.4,507.1 441.6,506.9 435.6,505.9 429.6,504.2 423.7,501.9 417.9,499.0 412.4,495.5 407.2,491.5 402.5,487.1 398.2,482.3 394.6,477.2 391.7,471.9 389.4,466.6 387.9,461.2" fill="url(#gservo)" stroke="#0b0b0b" stroke-width="1.375" stroke-linejoin="round" clip-path="url(#servoclip)"/>
<ellipse cx="433" cy="466" rx="50" ry="36" transform="rotate(35 433 466)" fill="url(#gservof)" stroke="#0b0b0b" stroke-width="1.1" clip-path="url(#servoclip)"/>
<polygon points="388.5,482.0 392.0,474.0 400.0,472.0 447.8,477.4 505.0,499.5 569.1,541.8 641.7,591.3 656.0,601.0 662.0,608.0 645.3,641.4 640.0,672.5 560.0,619.0 442.5,540.0 396.0,508.0 390.0,500.0" fill="#393734" stroke="#0b0b0b" stroke-width="1.375" stroke-linejoin="round" />
<polygon points="447.8,477.4 505.0,499.5 569.1,541.8 641.7,591.3 656.0,601.0 662.0,608.0 658.0,618.0 641.7,604.3 569.1,554.8 505.0,512.5 452.0,479.6 452.0,479.0" fill="#3e3c38" stroke="none" stroke-width="0.0" stroke-linejoin="round" />
<polyline points="447.8,477.4 505.0,499.5 569.1,541.8 641.7,591.3 656.0,601.0" fill="none" stroke="#0b0b0b" stroke-width="1.0" stroke-linejoin="round" stroke-linecap="round" />
<polygon points="450.0,481.9 505.0,516.0 569.1,558.3 641.7,607.8 656.0,617.5 656.0,629.5 641.7,619.8 569.1,570.3 505.0,528.0 446.0,491.4" fill="url(#ggroove)" stroke="none" stroke-width="0.0" stroke-linejoin="round" />
<polygon points="446.0,491.4 505.0,528.0 569.1,570.3 641.7,619.8 656.0,629.5 656.0,638.0 641.7,628.3 569.1,578.8 505.0,536.5 444.0,498.7" fill="#4b4945" stroke="none" stroke-width="0.0" stroke-linejoin="round" />
<polyline points="452.0,479.6 505.0,512.5 569.1,554.8 641.7,604.3 656.0,614.0" fill="none" stroke="#0b0b0b" stroke-width="1.0" stroke-linejoin="round" stroke-linecap="round" />
<polyline points="450.0,481.9 505.0,516.0 569.1,558.3 641.7,607.8 656.0,617.5" fill="none" stroke="#0b0b0b" stroke-width="0.9" stroke-linejoin="round" stroke-linecap="round" />
<polyline points="446.0,491.4 505.0,528.0 569.1,570.3 641.7,619.8 656.0,629.5" fill="none" stroke="#141414" stroke-width="0.9" stroke-linejoin="round" stroke-linecap="round" />
<polyline points="444.0,498.7 505.0,536.5 569.1,578.8 641.7,628.3 656.0,638.0" fill="none" stroke="#0b0b0b" stroke-width="0.9" stroke-linejoin="round" stroke-linecap="round" />
<polyline points="442.0,501.4 505.0,540.5 569.1,582.8 641.7,632.3 656.0,642.0" fill="none" stroke="#0b0b0b" stroke-width="0.9" stroke-linejoin="round" stroke-linecap="round" />
<polyline points="616.0,617.0 610.0,652.5" fill="none" stroke="#0b0b0b" stroke-width="0.9" stroke-linejoin="round" stroke-linecap="round" />
<polyline points="645.3,641.4 640.0,672.5" fill="none" stroke="#0b0b0b" stroke-width="0.9" stroke-linejoin="round" stroke-linecap="round" />
<path d="M396.9,483.8C397.1,486.3 396.5,494.3 398.2,499.0C399.9,503.7 402.3,507.8 407.0,511.8C411.7,515.9 421.4,521.3 426.2,523.3C431.0,525.2 433.6,524.9 436.0,523.5C438.4,522.1 439.6,519.5 440.5,515.0C441.4,510.5 441.7,501.7 441.4,496.5C441.1,491.3 439.3,486.1 438.9,484.0" fill="#363431" stroke="#0b0b0b" stroke-width="1"/>
<path d="M399.5,484.5C399.7,486.8 399.2,493.8 400.8,498.0C402.4,502.2 404.6,505.8 409.0,509.5C413.4,513.2 422.8,518.7 427.0,520.5C431.2,522.3 433.2,520.5 434.5,520.5" fill="none" stroke="#0b0b0b" stroke-width="0.8"/>
<path d="M405.8,510.5 L419.8,495.3 L436.3,499 M419.8,495.3 L426.2,523.3" fill="none" stroke="#0b0b0b" stroke-width="0.8"/>
<polygon points="438.9,484.0 442.5,492.0 441.5,505.0 440.0,516.0" fill="#4a4844" stroke="#0b0b0b" stroke-width="0.875" stroke-linejoin="round" />
<polygon points="420.3,429.9 441.2,434.4 459.1,449.6 457.8,459.8 451.4,463.6 451.4,472.5 446.3,477.6 438.7,489.1 431.1,489.1 418.3,481.4 417.1,475.1 403.1,473.8 394.2,466.2 395.4,462.3 412.0,450.9 410.7,440.7" fill="#383633" stroke="#0b0b0b" stroke-width="1.25" stroke-linejoin="round" />
<polygon points="420.3,429.9 441.2,434.4 456.0,447.0 449.0,446.0 426.0,438.0 412.5,441.5" fill="#45433f" stroke="#0b0b0b" stroke-width="0.875" stroke-linejoin="round" />
<ellipse cx="421" cy="447" rx="4.5" ry="3.2" transform="rotate(-20 421 447)" fill="#4a4845" stroke="#0b0b0b" stroke-width="0.84" />
<ellipse cx="437" cy="459" rx="5" ry="4" transform="rotate(0 437 459)" fill="#2a2927" stroke="#0b0b0b" stroke-width="0.84" />
<ellipse cx="424" cy="478" rx="6.5" ry="6" transform="rotate(0 424 478)" fill="#2e2d2a" stroke="#0b0b0b" stroke-width="0.96" />
<polyline points="441.2,434.4 449.0,446.0 450.0,462.0" fill="none" stroke="#0b0b0b" stroke-width="0.8" stroke-linejoin="round" stroke-linecap="round" />
<polyline points="420.3,429.9 426.0,438.0 449.0,446.0" fill="none" stroke="#0b0b0b" stroke-width="0.8" stroke-linejoin="round" stroke-linecap="round" />
<polyline points="412.0,450.9 428.0,455.0 432.0,468.0 417.1,475.1" fill="none" stroke="#0b0b0b" stroke-width="0.7" stroke-linejoin="round" stroke-linecap="round" />
<path d="M661.5,664 L661.5,686 Q678,694 695.2,681.5 L696,668 Q680,672 661.5,664 Z" fill="#2f2e2b" stroke="#0b0b0b" stroke-width="1.25" stroke-linejoin="round" />
</g>
<g id="labels">
<rect x="464.75" y="42.5" width="179.5" height="60.5" fill="#ff6666"/>
<text x="474.5" y="77" textLength="158.5" lengthAdjust="spacingAndGlyphs">INPUT: 12V 3A (min)</text>
<rect x="275.75" y="103.75" width="168.5" height="117.5" fill="#ff6666"/>
<text x="309.5" y="128.75" textLength="100.0" lengthAdjust="spacingAndGlyphs">BUTTON FOR</text>
<text x="285.5" y="147.75" textLength="147.0" lengthAdjust="spacingAndGlyphs">MANUAL CONTROL</text>
<text x="302" y="166.75" textLength="112.5" lengthAdjust="spacingAndGlyphs">(OPEN/CLOSE,</text>
<text x="296.25" y="185.75" textLength="126.75" lengthAdjust="spacingAndGlyphs">TURN LED LIGHT</text>
<text x="326.25" y="204.75" textLength="66.25" lengthAdjust="spacingAndGlyphs">ON/OFF)</text>
<rect x="830.75" y="44.75" width="179.5" height="75.0" fill="#ff6666"/>
<text x="845.5" y="68" textLength="148.75" lengthAdjust="spacingAndGlyphs">Micro USB plug (for</text>
<text x="866.5" y="87" textLength="106.5" lengthAdjust="spacingAndGlyphs">PC control via</text>
<text x="858.25" y="106" textLength="121.75" lengthAdjust="spacingAndGlyphs">ASCOM, INDI,...)</text>
<rect x="896.75" y="152.75" width="179.5" height="75.25" fill="#ff6666"/>
<text x="909.5" y="175.75" textLength="154.25" lengthAdjust="spacingAndGlyphs">TEMPERATURE AND</text>
<text x="913.5" y="194.75" textLength="144.0" lengthAdjust="spacingAndGlyphs">HUMIDITY SENSOR</text>
<text x="916.5" y="213.75" textLength="138.5" lengthAdjust="spacingAndGlyphs">PORT (OPTIONAL)</text>
<rect x="1034.75" y="289.75" width="168.5" height="62.25" fill="#ff6666"/>
<text x="1059.5" y="315.75" textLength="118.5" lengthAdjust="spacingAndGlyphs">DIMMABLE LED</text>
<text x="1096.25" y="334.75" textLength="44.75" lengthAdjust="spacingAndGlyphs">LIGHT</text>
<rect x="1238.75" y="645.75" width="185.5" height="105.25" fill="#ff6666"/>
<text x="1255.5" y="674.5" textLength="149.0" lengthAdjust="spacingAndGlyphs">BUILT IN MAGNETS,</text>
<text x="1260.5" y="693.25" textLength="141.5" lengthAdjust="spacingAndGlyphs">WHICH KEEP FLAP</text>
<text x="1261.25" y="711.75" textLength="139.5" lengthAdjust="spacingAndGlyphs">SHUT EVEN WHEN</text>
<text x="1279.5" y="730.5" textLength="103.0" lengthAdjust="spacingAndGlyphs">UNPOWERED</text>
<rect x="183.75" y="474.75" width="168.5" height="102.25" fill="#ff6666"/>
<text x="210.5" y="511.75" textLength="113.0" lengthAdjust="spacingAndGlyphs">SERVO MOTOR</text>
<text x="192.5" y="530.5" textLength="151.25" lengthAdjust="spacingAndGlyphs">WITH 270 DEGREES</text>
<text x="223.25" y="548.75" textLength="88.0" lengthAdjust="spacingAndGlyphs">OF MOTION</text>
<rect x="598.75" y="767.75" width="168.5" height="102.25" fill="#ff6666"/>
<text x="605.5" y="794.75" textLength="154.0" lengthAdjust="spacingAndGlyphs">BUILT IN HEATER TO</text>
<text x="615.5" y="813.75" textLength="133.5" lengthAdjust="spacingAndGlyphs">PREVENT OPTICS</text>
<text x="650.75" y="832.75" textLength="63.75" lengthAdjust="spacingAndGlyphs">DEWING</text>
<text x="636.25" y="851.75" textLength="92.25" lengthAdjust="spacingAndGlyphs">(OPTIONAL)</text>
</g>
<g id="arrows">
<g opacity="0.45" filter="url(#blur2)" transform="translate(1.5,2.5)"><path d="M644.2,96.5L718.5,160.4" stroke="#555" stroke-width="3.4" fill="none"/><polygon points="732.5,172.5 714.4,165.1 722.5,155.7" fill="#555"/></g>
<g opacity="0.45" filter="url(#blur2)" transform="translate(1.5,2.5)"><path d="M830.8,97.5L777.6,125.6" stroke="#555" stroke-width="3.4" fill="none"/><polygon points="761.2,134.2 774.7,120.1 780.5,131.1" fill="#555"/></g>
<g opacity="0.45" filter="url(#blur2)" transform="translate(1.5,2.5)"><path d="M896.8,196.2L734.7,204.1" stroke="#555" stroke-width="3.4" fill="none"/><polygon points="716.2,205.0 734.4,197.9 735.0,210.3" fill="#555"/></g>
<g opacity="0.45" filter="url(#blur2)" transform="translate(1.5,2.5)"><path d="M444.2,171.2L646.8,296.5" stroke="#555" stroke-width="3.4" fill="none"/><polygon points="662.5,306.2 643.5,301.8 650.0,291.2" fill="#555"/></g>
<g opacity="0.45" filter="url(#blur2)" transform="translate(1.5,2.5)"><path d="M1087.5,352.0L945.6,494.4" stroke="#555" stroke-width="3.4" fill="none"/><polygon points="932.5,507.5 941.2,490.0 950.0,498.8" fill="#555"/></g>
<g opacity="0.45" filter="url(#blur2)" transform="translate(1.5,2.5)"><path d="M352.2,500.0L431.0,445.5" stroke="#555" stroke-width="3.4" fill="none"/><polygon points="446.2,435.0 434.6,450.6 427.5,440.4" fill="#555"/></g>
<g opacity="0.45" filter="url(#blur2)" transform="translate(1.5,2.5)"><path d="M716.2,767.5L819.1,669.0" stroke="#555" stroke-width="3.4" fill="none"/><polygon points="832.5,656.2 823.4,673.5 814.8,664.6" fill="#555"/></g>
<g opacity="0.45" filter="url(#blur2)" transform="translate(1.5,2.5)"><path d="M1262.5,645.8L1168.4,492.0" stroke="#555" stroke-width="3.4" fill="none"/><polygon points="1158.8,476.2 1173.7,488.8 1163.1,495.3" fill="#555"/></g>
<g opacity="0.45" filter="url(#blur2)" transform="translate(1.5,2.5)"><path d="M1238.8,667.0L1164.4,633.4" stroke="#555" stroke-width="3.4" fill="none"/><polygon points="1147.5,625.8 1166.9,627.7 1161.8,639.0" fill="#555"/></g>
<g opacity="0.45" filter="url(#blur2)" transform="translate(1.5,2.5)"><path d="M1238.8,698.8L944.7,679.9" stroke="#555" stroke-width="3.4" fill="none"/><polygon points="926.2,678.8 945.1,673.7 944.3,686.1" fill="#555"/></g>
<path d="M644.2,96.5L718.5,160.4" stroke="#9b9b9b" stroke-width="3.1" fill="none"/><polygon points="732.5,172.5 714.4,165.1 722.5,155.7" fill="#9b9b9b"/>
<path d="M830.8,97.5L777.6,125.6" stroke="#9b9b9b" stroke-width="3.1" fill="none"/><polygon points="761.2,134.2 774.7,120.1 780.5,131.1" fill="#9b9b9b"/>
<path d="M896.8,196.2L734.7,204.1" stroke="#9b9b9b" stroke-width="3.1" fill="none"/><polygon points="716.2,205.0 734.4,197.9 735.0,210.3" fill="#9b9b9b"/>
<path d="M444.2,171.2L646.8,296.5" stroke="#9b9b9b" stroke-width="3.1" fill="none"/><polygon points="662.5,306.2 643.5,301.8 650.0,291.2" fill="#9b9b9b"/>
<path d="M1087.5,352.0L945.6,494.4" stroke="#9b9b9b" stroke-width="3.1" fill="none"/><polygon points="932.5,507.5 941.2,490.0 950.0,498.8" fill="#9b9b9b"/>
<path d="M352.2,500.0L431.0,445.5" stroke="#9b9b9b" stroke-width="3.1" fill="none"/><polygon points="446.2,435.0 434.6,450.6 427.5,440.4" fill="#9b9b9b"/>
<path d="M716.2,767.5L819.1,669.0" stroke="#9b9b9b" stroke-width="3.1" fill="none"/><polygon points="832.5,656.2 823.4,673.5 814.8,664.6" fill="#9b9b9b"/>
<path d="M1262.5,645.8L1168.4,492.0" stroke="#9b9b9b" stroke-width="3.1" fill="none"/><polygon points="1158.8,476.2 1173.7,488.8 1163.1,495.3" fill="#9b9b9b"/>
<path d="M1238.8,667.0L1164.4,633.4" stroke="#9b9b9b" stroke-width="3.1" fill="none"/><polygon points="1147.5,625.8 1166.9,627.7 1161.8,639.0" fill="#9b9b9b"/>
<path d="M1238.8,698.8L944.7,679.9" stroke="#9b9b9b" stroke-width="3.1" fill="none"/><polygon points="926.2,678.8 945.1,673.7 944.3,686.1" fill="#9b9b9b"/>
</g>
</svg>
</body></html>
